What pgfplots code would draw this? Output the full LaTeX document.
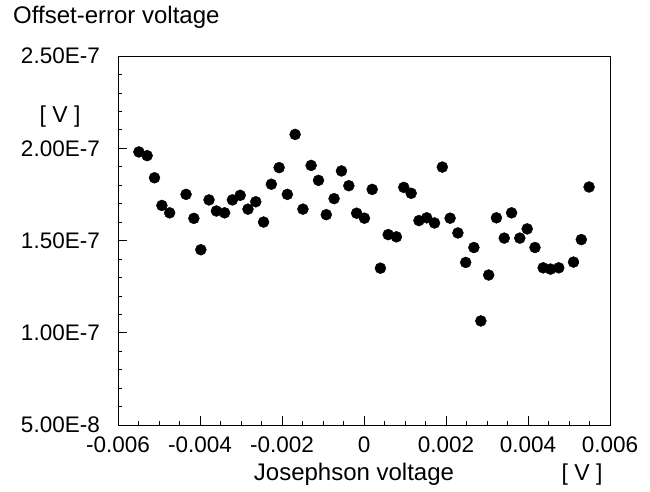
\documentclass[border=0pt]{standalone}
\usepackage{fontspec}
\setmainfont{Liberation Sans}
\usepackage{pgfplots}
\pgfplotsset{compat=1.18}
\begin{document}
\fontsize{22pt}{26pt}\selectfont
\begin{tikzpicture}
\useasboundingbox (0,0) rectangle (650pt,-491pt);
\begin{axis}[
  at={(118pt,-425pt)}, anchor=south west,
  scale only axis, width=492pt, height=369pt,
  xmin=-0.006, xmax=0.006, ymin=5e-8, ymax=2.5e-7,
  axis line style={black, line width=0.9pt},
  xtick={-0.006,-0.004,-0.002,0,0.002,0.004,0.006},
  xticklabels={-0.006,-0.004,-0.002,0,0.002,0.004,0.006},
  ytick={5e-8,1e-7,1.5e-7,2e-7,2.5e-7},
  yticklabels={5.00E-8,1.00E-7,1.50E-7,2.00E-7,2.50E-7},
  minor x tick num=3, minor y tick num=4,
  tick align=inside, xtick pos=bottom, ytick pos=left,
  major tick length=9pt, minor tick length=4pt,
  tick style={black, line width=0.7pt},
  xticklabel style={inner sep=0pt, yshift=-12pt, font=\fontsize{22.5pt}{26pt}\selectfont},
  yticklabel style={inner sep=0pt, xshift=-18pt, font=\fontsize{22.5pt}{26pt}\selectfont},
  scaled x ticks=false, scaled y ticks=false,
  clip=false,
]
\addplot[only marks, mark=*, mark size=5.5pt, black] coordinates {
(-0.00549,1.98e-7) (-0.00529,1.96e-7) (-0.00511,1.84e-7) (-0.00493,1.69e-7)
(-0.00474,1.65e-7) (-0.00434,1.75e-7) (-0.00415,1.62e-7) (-0.00398,1.45e-7)
(-0.00378,1.72e-7) (-0.00360,1.66e-7) (-0.00340,1.65e-7) (-0.00321,1.72e-7)
(-0.00302,1.745e-7) (-0.00283,1.67e-7) (-0.00264,1.71e-7) (-0.00245,1.60e-7)
(-0.00226,1.805e-7) (-0.00207,1.895e-7) (-0.00187,1.75e-7) (-0.00168,2.075e-7)
(-0.00149,1.67e-7) (-0.00129,1.907e-7) (-0.00111,1.826e-7) (-0.00092,1.64e-7)
(-0.00073,1.727e-7) (-0.00055,1.877e-7) (-0.00037,1.797e-7) (-0.00018,1.648e-7)
(0.00001,1.621e-7) (0.00020,1.777e-7) (0.00040,1.35e-7) (0.00059,1.532e-7)
(0.00079,1.52e-7) (0.00097,1.788e-7) (0.00115,1.756e-7) (0.00134,1.608e-7)
(0.00153,1.623e-7) (0.00172,1.595e-7) (0.00191,1.898e-7) (0.00210,1.621e-7)
(0.00229,1.541e-7) (0.00248,1.381e-7) (0.00268,1.462e-7) (0.00285,1.064e-7)
(0.00304,1.313e-7) (0.00323,1.623e-7) (0.00342,1.513e-7) (0.00360,1.65e-7)
(0.00380,1.513e-7) (0.00398,1.563e-7) (0.00417,1.462e-7) (0.00437,1.352e-7)
(0.00455,1.345e-7) (0.00475,1.352e-7) (0.00511,1.383e-7) (0.00530,1.505e-7)
(0.00549,1.79e-7)
};
\end{axis}
\node[anchor=base west, inner sep=0pt, font=\fontsize{24pt}{28pt}\selectfont] at (13pt,-23pt) {Offset-error voltage};
\node[anchor=base, inner sep=0pt, font=\fontsize{23pt}{28pt}\selectfont] at (60pt,-122pt) {[ V ]};
\node[anchor=base, inner sep=0pt, font=\fontsize{24pt}{28pt}\selectfont] at (354pt,-480pt) {Josephson voltage};
\node[anchor=base, inner sep=0pt, font=\fontsize{23pt}{28pt}\selectfont] at (582pt,-480pt) {[ V ]};
\end{tikzpicture}
\end{document}
